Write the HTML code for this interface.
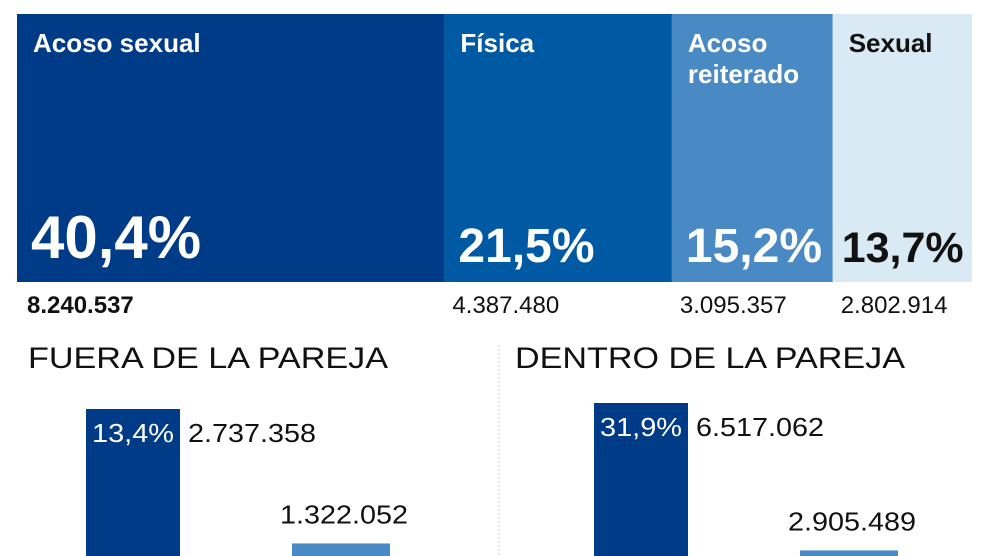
<!DOCTYPE html>
<html><head><meta charset="utf-8"><style>
html,body{margin:0;width:990px;height:556px;overflow:hidden;background:#fff;font-family:"Liberation Sans",sans-serif;}
svg{display:block;}
svg text{font-family:"Liberation Sans",sans-serif;}
</style></head><body>
<svg id="c" width="990" height="556" viewBox="0 0 990 556">
<line x1="499" y1="345" x2="499" y2="556" stroke="#ccc" stroke-dasharray="2,2"/>
<text x="28" y="368" font-size="30" fill="#111" textLength="360" lengthAdjust="spacingAndGlyphs">FUERA DE LA PAREJA</text>
<text x="515" y="368" font-size="30" fill="#111" textLength="390" lengthAdjust="spacingAndGlyphs">DENTRO DE LA PAREJA</text>
</svg>
<script>
const cats=["Acoso sexual","Física","Acoso reiterado","Sexual"];
const pcts=[40.4,21.5,15.2,13.7];
const pctLabels=["40,4%","21,5%","15,2%","13,7%"];
const counts=["8.240.537","4.387.480","3.095.357","2.802.914"];
const fuera=[2737358,1322052];
const fueraLabels=["2.737.358","1.322.052"];
const fueraPct=["13,4%",""];
const dentro=[6517062,2905489];
const dentroLabels=["6.517.062","2.905.489"];
const dentroPct=["31,9%",""];
const svg=document.getElementById('c');const NS="http://www.w3.org/2000/svg";
function mk(t,a,p){const e=document.createElementNS(NS,t);for(const k in a)e.setAttribute(k,a[k]);(p||svg).appendChild(e);return e;}
const colors=["#003b87","#0059a3","#4a8ac4","#d9eaf4"];
const txtCol=["#fff","#fff","#fff","#111"];
const X0=17,XMAX=972,Y0=14,H=268,PX=10.58;
let x=X0;
pcts.forEach((v,i)=>{
 const w=Math.min(v*PX,XMAX-x);
 const r=mk('rect',{x:x,y:Y0,width:w,height:H,fill:colors[i]});
 
 
 const lines=cats[i]=="Acoso reiterado"?["Acoso","reiterado"]:[cats[i]];
 lines.forEach((l,j)=>{const t=mk('text',{x:x+16,y:52+j*31,'font-size':26,'font-weight':'bold',fill:txtCol[i]});t.textContent=l;
 
 });
 const p=mk('text',{x:x+(i==3?9:14),y:i==0?258:262,'font-size':i==0?60:i==3?43:48,'font-weight':'bold',fill:txtCol[i]});p.textContent=pctLabels[i];
 
 
 const c=mk('text',{x:i==0?x+10:x+8,y:313,'font-size':24,'font-weight':i==0?'bold':'normal',fill:'#111'});c.textContent=counts[i];
 
 
 x+=w;
});
function panel(vals,labs,pl,bx,name){
 const base=669,bottom=556,maxPx=vals===fuera?260:266,mx=vals[0];
 const xs=[bx,bx+206],ws=[94,98],cols=["#003b87","#4a8ac4"];
 vals.forEach((v,i)=>{
  const top=base-v/mx*maxPx;
  const r=mk('rect',{x:xs[i],y:top,width:ws[i],height:Math.max(0,bottom-top),fill:cols[i]});
  
  
  if(pl[i]){const t=mk('text',{x:xs[i]+6,y:top+33,'font-size':26,fill:'#fff',textLength:82,lengthAdjust:'spacingAndGlyphs'});t.textContent=pl[i];
  
  }
  const lx=i==0?xs[i]+ws[i]+8:xs[i]-12, ly=i==0?top+33:top-20;
  const t2=mk('text',{x:lx,y:ly,'font-size':26,fill:'#111',textLength:128,lengthAdjust:'spacingAndGlyphs'});t2.textContent=labs[i];
  
  
 });
}
panel(fuera,fueraLabels,fueraPct,86,'fuera');
panel(dentro,dentroLabels,dentroPct,594,'dentro');
</script>
</body></html>
